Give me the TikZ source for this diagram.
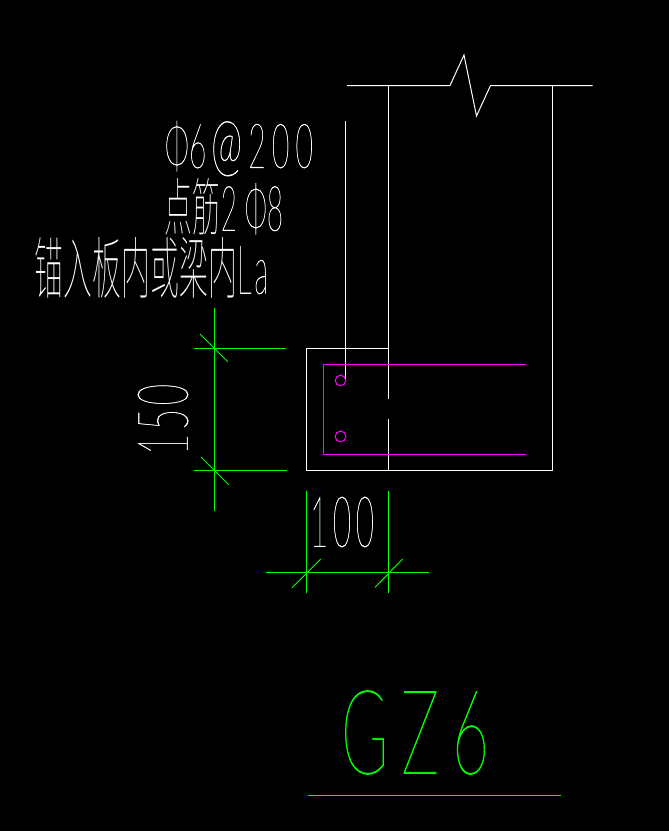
\documentclass[tikz,border=0pt]{standalone}
\usepackage{fontspec}
\setmainfont{Lato Thin}[FakeBold=0.6]
\newfontfamily\cadhair{Lato Hairline}[FakeBold=0.6]
\newfontfamily\cjkthin{Noto Sans CJK SC Thin}
\newcommand{\fitbox}[3]{\resizebox{#1pt}{#2pt}{#3}}
\definecolor{cadmagenta}{RGB}{255,0,255}
\definecolor{cadgreen}{RGB}{0,255,0}
\begin{document}
\begin{tikzpicture}[x=1pt,y=-1pt,inner sep=0pt,outer sep=0pt,line width=1pt,
wall/.style={draw=white},
stirrup/.style={draw=cadmagenta},
dimline/.style={draw=cadgreen},
caption/.style={text=white,anchor=center},
gzlabel/.style={text=cadgreen,anchor=center}]
\fill[black] (0,0) rectangle (669,831);
\useasboundingbox (0,0) rectangle (669,831);
% column outline
\draw[wall] (347,85.5) -- (450,85.5) -- (464,55) -- (476.5,116) -- (490.5,85.5) -- (592.5,85.5);
\draw[wall] (388.5,85.5) -- (388.5,398.5);
\draw[wall] (388.5,419) -- (388.5,470.5);
\draw[wall] (552.5,85.5) -- (552.5,470.5) -- (306.5,470.5) -- (306.5,348.5) -- (388.5,348.5);
\draw[wall] (345.5,121) -- (345.5,379);
% stirrup and bars
\draw[stirrup] (525.5,364.5) -- (323.5,364.5) -- (323.5,454.5) -- (525.5,454.5);
\draw[stirrup] (340.5,380.5) circle (5.3);
\draw[stirrup] (340.5,436.5) circle (5.4);
% dimension 150
\draw[dimline] (214.5,308) -- (214.5,510.5);
\draw[dimline] (194,348.5) -- (285.5,348.5);
\draw[dimline] (194,470.5) -- (286.5,470.5);
\draw[dimline] (200,334) -- (227.7,361.7);
\draw[dimline] (201,457) -- (228.7,484.7);
% dimension 100
\draw[dimline] (306.5,491) -- (306.5,592.5);
\draw[dimline] (388.5,491) -- (388.5,592.5);
\draw[dimline] (266,572.5) -- (428.5,572.5);
\draw[dimline] (292,587.7) -- (320.7,559);
\draw[dimline] (375,587.3) -- (402.7,559);
% labels
\node[caption] (spacing) at (239,148.5) {\fitbox{148}{47}{Φ6\hspace{1.5pt}\scalebox{1.25}[1.15]{@}\hspace{2pt}2\hspace{2pt}0\hspace{2pt}0}};
\node[caption] (cornerbar) at (224,207) {\fitbox{118}{52}{\cjkthin 点筋\rmfamily 2 Φ8}};
\node[caption] (anchorage) at (151.5,268) {\fitbox{233}{56}{\cjkthin 锚入板内或梁内\rmfamily L\hspace{1pt}a}};
\node[caption,rotate=90] (dimheight) at (163,419.5) {\fitbox{71}{50}{1\hspace{1pt}5\hspace{1pt}0}};
\node[caption] (dimwidth) at (342,522) {\fitbox{64}{50}{1\hspace{1.5pt}0\hspace{1.5pt}0}};
\node[gzlabel] (title) at (415,732.5) {\fitbox{148}{83}{\cadhair G\hspace{2pt}Z\hspace{2pt}6}};
\draw[dimline] (308,795.5) -- (560.5,795.5);
\end{tikzpicture}
\end{document}
